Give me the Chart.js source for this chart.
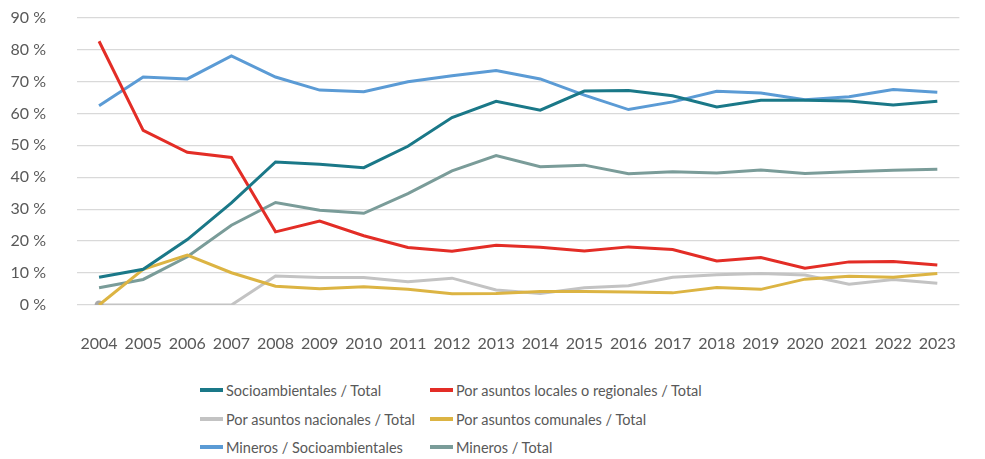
<!DOCTYPE html>
<html>
<head>
<meta charset="utf-8">
<script src="https://cdn.jsdelivr.net/npm/chart.js@4.4.1/dist/chart.umd.min.js"></script>
<style>
  html, body { margin: 0; padding: 0; background: #ffffff; }
  body { width: 985px; height: 459px; position: relative; overflow: hidden; font-family: Lato, "Noto Sans", sans-serif; }
  #wrap { position: absolute; left: 0; top: -23px; width: 985px; height: 393px; }
  #legend { position: absolute; left: 0; top: 376px; width: 985px; }
  .item { position: absolute; height: 20px; display: flex; align-items: center; font-size: 14.5px; color: #595959; white-space: nowrap; }
  .sw { width: 23px; height: 4px; margin-right: 3px; }
</style>
</head>
<body>
<div id="wrap"><canvas id="c"></canvas></div>
<div id="legend"></div>
<script>
const years = ['2004','2005','2006','2007','2008','2009','2010','2011','2012','2013','2014','2015','2016','2017','2018','2019','2020','2021','2022','2023'];
const yTicks = [0, 10, 20, 30, 40, 50, 60, 70, 80, 90];

const seriesNames = [
  'Socioambientales / Total',
  'Por asuntos locales o regionales / Total',
  'Por asuntos nacionales / Total',
  'Por asuntos comunales / Total',
  'Mineros / Socioambientales',
  'Mineros / Total'
];
const socioambientalesTotal = [8.7, 11.2, 20.5, 32.0, 44.8, 44.1, 43.0, 49.7, 58.7, 63.8, 61.0, 67.0, 67.2, 65.5, 62.0, 64.1, 64.1, 63.9, 62.6, 63.8];
const localesRegionalesTotal = [82.6, 54.7, 47.8, 46.2, 22.9, 26.3, 21.7, 18.0, 16.8, 18.7, 18.1, 16.9, 18.2, 17.4, 13.8, 14.9, 11.5, 13.5, 13.6, 12.5];
const nacionalesTotal = [0, 0, 0, 0, 9.1, 8.6, 8.6, 7.3, 8.4, 4.7, 3.6, 5.4, 6.0, 8.7, 9.5, 9.9, 9.4, 6.5, 8.0, 6.8];
const comunalesTotal = [0, 11.2, 15.6, 10.1, 5.9, 5.1, 5.7, 4.9, 3.5, 3.6, 4.2, 4.2, 4.1, 3.8, 5.5, 4.9, 8.1, 9.0, 8.7, 9.9];
const minerosSocioambientales = [62.4, 71.4, 70.8, 78.0, 71.4, 67.3, 66.8, 69.9, 71.8, 73.4, 70.8, 65.7, 61.2, 63.6, 66.9, 66.4, 64.3, 65.2, 67.5, 66.6];
const minerosTotal = [5.4, 8.0, 15.1, 25.0, 32.1, 29.7, 28.7, 34.9, 42.0, 46.8, 43.3, 43.8, 41.1, 41.7, 41.3, 42.3, 41.2, 41.7, 42.2, 42.5];

const colors = ['#1a7888', '#e32d26', '#c3c3c3', '#dcb443', '#5b9bd5', '#7a9c99'];
const values = [socioambientalesTotal, localesRegionalesTotal, nacionalesTotal, comunalesTotal, minerosSocioambientales, minerosTotal];
// draw order (lower "order" drawn on top)
const drawOrder = [1, 2, 5, 3, 4, 6];

const datasets = values.map((v, i) => ({
  label: seriesNames[i],
  data: v,
  borderColor: colors[i],
  backgroundColor: colors[i],
  borderWidth: 3,
  pointRadius: i === 2 ? v.map((_, k) => k === 0 ? 4.5 : 0) : 0,
  pointBackgroundColor: '#a9a9a9',
  pointBorderWidth: 0,
  tension: 0,
  fill: false,
  order: drawOrder[i]
}));

const tickFont = { family: 'Lato, "Noto Sans", sans-serif', size: 16 };

new Chart(document.getElementById('c'), {
  type: 'line',
  data: { labels: years, datasets },
  options: {
    responsive: true,
    maintainAspectRatio: false,
    animation: false,
    layout: { padding: { top: 17, right: 5, left: 0, bottom: 0 } },
    plugins: { legend: { display: false }, tooltip: { enabled: false } },
    scales: {
      x: {
        offset: true,
        grid: { display: false, drawTicks: false },
        border: { display: false },
        ticks: { color: '#595959', font: tickFont, padding: 29, maxRotation: 0, autoSkip: false },
        afterFit: s => { s.height = 65; }
      },
      y: {
        min: 0, max: 90,
        afterBuildTicks: s => { s.ticks = yTicks.map(v => ({ value: v })); },
        grid: { color: '#d9d9d9', lineWidth: 1.3, drawTicks: false },
        border: { display: false },
        ticks: { color: '#595959', font: tickFont, padding: 31, callback: v => v + ' %' },
        afterFit: s => { s.width = 77; }
      }
    }
  }
});

// legend in two columns
const legend = document.getElementById('legend');
const colX = [200, 430];
const rowY = [4, 33, 61];
seriesNames.forEach((name, i) => {
  const d = document.createElement('div');
  d.className = 'item';
  d.style.left = colX[i % 2] + 'px';
  d.style.top = rowY[Math.floor(i / 2)] + 'px';
  const sw = document.createElement('span');
  sw.className = 'sw';
  sw.style.background = colors[i];
  const t = document.createElement('span');
  t.textContent = name;
  d.appendChild(sw);
  d.appendChild(t);
  legend.appendChild(d);
});
</script>
</body>
</html>
